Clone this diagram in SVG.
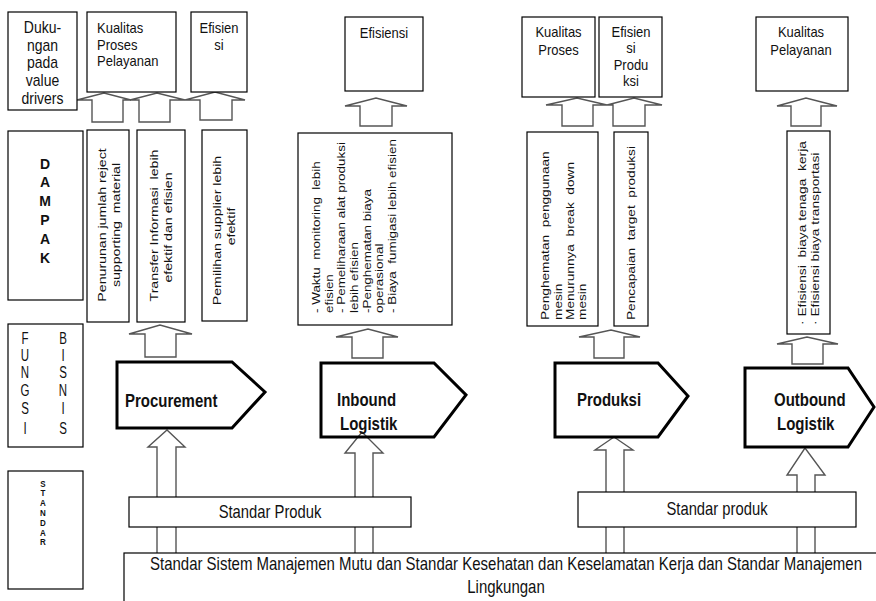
<svg xmlns="http://www.w3.org/2000/svg" width="876" height="601" viewBox="0 0 876 601">
<style>
.box{fill:#fff;stroke:#000;stroke-width:1.2}
.pent{fill:none;stroke:#000;stroke-width:3;stroke-linejoin:miter}
.arr{fill:#fff;stroke:#555;stroke-width:1.4;stroke-linejoin:miter}
text{font-family:"Liberation Sans",Arial,sans-serif;fill:#111;white-space:pre}
.t13{font-size:13px}
.t14{font-size:14px}
.mid{text-anchor:middle}
.fb{font-size:15px;font-weight:bold}
.big{font-size:15px;text-anchor:middle}
.sp{font-size:14.8px;text-anchor:middle}
.dam{font-size:14px;font-weight:bold;text-anchor:middle}
.fun{font-size:11.5px;text-anchor:middle}
.std{font-size:8px;font-weight:bold;text-anchor:middle}
.r1{font-size:11.8px;text-anchor:middle}
.r2{font-size:11.2px}
.r3{font-size:11.4px}
.r4{font-size:11.5px}
</style>
<rect width="876" height="601" fill="#fff"/>
<g id="connectors">
<path class="arr" d="M92,122 V100 H77 L104,93 L131,100 H123 V122 Z"/>
<path class="arr" d="M139,122 V100 H130 L157,93 L185,100 H170 V122 Z"/>
<path class="arr" d="M200,120 V100 H185 L215,92 L245,100 H232 V120 Z"/>
<path class="arr" d="M145,357 V334 H129 L160,325 L192,334 H176 V357 Z"/>
<path class="arr" d="M360,126 V106 H345 L376,98 L407,106 H392 V126 Z"/>
<path class="arr" d="M352,358 V337 H336 L368,329 L398,337 H383 V358 Z"/>
<path class="arr" d="M562,126 V105 H546 L577,98 L607,105 H593 V126 Z"/>
<path class="arr" d="M613,126 V105 H607 L634,98 L662,105 H645 V126 Z"/>
<path class="arr" d="M594,358 V337 H579 L611,330 L640,337 H624 V358 Z"/>
<path class="arr" d="M791,126 V106 H777 L806,98 L837,106 H821 V126 Z"/>
<path class="arr" d="M792,364 V344 H777 L807,337 L838,344 H823 V364 Z"/>
<path class="arr" d="M157,553 V447 H148 L167,430 L185,447 H176 V553"/>
<path class="arr" d="M355,553 V453 H345 L362,432 L383,453 H373 V553"/>
<path class="arr" d="M606,553 V450 H595 L614,437 L633,450 H624 V553"/>
<path class="arr" d="M797,553 V475 H787 L805,448 L825,475 H815 V553"/>
</g>
<g id="node-dukungan">
<rect class="box" x="8" y="12" width="69" height="98"/>
<text class="t14 mid" transform="translate(42.5 33) scale(1 1.15)">Duku-</text>
<text class="t14 mid" transform="translate(42.5 50.5) scale(1 1.15)">ngan</text>
<text class="t14 mid" transform="translate(42.5 68) scale(1 1.15)">pada</text>
<text class="t14 mid" transform="translate(42.5 86) scale(1 1.15)">value</text>
<text class="t14 mid" transform="translate(42.5 103.5) scale(1 1.15)">drivers</text>
</g>
<g id="node-kualitas-proses-pelayanan">
<rect class="box" x="87" y="12" width="89" height="80"/>
<text class="t13" transform="translate(97 33) scale(1 1.15)">Kualitas</text>
<text class="t13" transform="translate(97 50) scale(1 1.15)">Proses</text>
<text class="t13" transform="translate(97 66) scale(1 1.15)">Pelayanan</text>
</g>
<g id="node-efisiensi-1">
<rect class="box" x="191" y="12" width="56" height="80"/>
<text class="t13 mid" transform="translate(219 33) scale(1 1.15)">Efisien</text>
<text class="t13 mid" transform="translate(219 50) scale(1 1.15)">si</text>
</g>
<g id="node-dampak">
<rect class="box" x="8" y="131" width="75" height="169"/>
<text class="dam" transform="translate(45 168.5) scale(1 1.1)">D</text>
<text class="dam" transform="translate(45 187.3) scale(1 1.1)">A</text>
<text class="dam" transform="translate(45 206.1) scale(1 1.1)">M</text>
<text class="dam" transform="translate(45 224.9) scale(1 1.1)">P</text>
<text class="dam" transform="translate(45 243.7) scale(1 1.1)">A</text>
<text class="dam" transform="translate(45 262.5) scale(1 1.1)">K</text>
</g>
<g id="node-dampak-proc-1">
<rect class="box" x="87" y="130" width="42" height="192"/>
<text class="r1" transform="translate(106 225) rotate(-90) scale(1.2 1)">Penurunan jumlah reject</text>
<text class="r1" transform="translate(119.5 225) rotate(-90) scale(1.2 1)">supporting  material</text>
</g>
<g id="node-dampak-proc-2">
<rect class="box" x="137" y="130" width="48" height="192"/>
<text class="r1" transform="translate(158 225.5) rotate(-90) scale(1.2 1)">Transfer Informasi  lebih</text>
<text class="r1" transform="translate(172 227.5) rotate(-90) scale(1.2 1)">efektif dan efisien</text>
</g>
<g id="node-dampak-proc-3">
<rect class="box" x="202" y="130" width="45" height="191"/>
<text class="r1" transform="translate(220.5 230.5) rotate(-90) scale(1.2 1)">Pemilihan supplier lebih</text>
<text class="r1" transform="translate(235 226.5) rotate(-90) scale(1.2 1)">efektif</text>
</g>
<g id="node-fungsi-bisnis">
<rect class="box" x="8" y="324" width="75" height="123"/>
<text class="fun" transform="translate(25 344) scale(1 1.45)">F</text>
<text class="fun" transform="translate(25 361) scale(1 1.45)">U</text>
<text class="fun" transform="translate(25 378) scale(1 1.45)">N</text>
<text class="fun" transform="translate(25 396) scale(1 1.45)">G</text>
<text class="fun" transform="translate(25 414) scale(1 1.45)">S</text>
<text class="fun" transform="translate(25 434) scale(1 1.45)">I</text>
<text class="fun" transform="translate(63 344) scale(1 1.45)">B</text>
<text class="fun" transform="translate(63 361) scale(1 1.45)">I</text>
<text class="fun" transform="translate(63 378) scale(1 1.45)">S</text>
<text class="fun" transform="translate(63 396) scale(1 1.45)">N</text>
<text class="fun" transform="translate(63 414) scale(1 1.45)">I</text>
<text class="fun" transform="translate(63 434) scale(1 1.45)">S</text>
</g>
<g id="node-standar">
<rect class="box" x="8" y="471" width="75" height="118"/>
<text class="std" transform="translate(43 486.5) scale(1 1.2)">S</text>
<text class="std" transform="translate(43 496.3) scale(1 1.2)">T</text>
<text class="std" transform="translate(43 506.1) scale(1 1.2)">A</text>
<text class="std" transform="translate(43 515.9) scale(1 1.2)">N</text>
<text class="std" transform="translate(43 525.7) scale(1 1.2)">D</text>
<text class="std" transform="translate(43 535.5) scale(1 1.2)">A</text>
<text class="std" transform="translate(43 545.3) scale(1 1.2)">R</text>
</g>
<g id="node-procurement">
<polygon class="pent" points="117,362 232,362 265,392 232,428 117,428"/>
<text class="fb" transform="translate(125 407) scale(1 1.2)">Procurement</text>
</g>
<g id="node-efisiensi-2">
<rect class="box" x="345" y="17" width="78" height="74"/>
<text class="t13 mid" transform="translate(384 38) scale(1 1.15)">Efisiensi</text>
</g>
<g id="node-dampak-inbound">
<rect class="box" x="298" y="133" width="154" height="192"/>
<text class="r2" transform="translate(320 313) rotate(-90) scale(1.2 1)">- Waktu  monitoring  lebih</text>
<text class="r2" transform="translate(332.6 313) rotate(-90) scale(1.2 1)">efisien</text>
<text class="r2" transform="translate(345.3 313) rotate(-90) scale(1.2 1)">- Pemeliharaan alat produksi</text>
<text class="r2" transform="translate(357.9 313) rotate(-90) scale(1.2 1)">lebih efisien</text>
<text class="r2" transform="translate(370.6 313) rotate(-90) scale(1.2 1)">-Penghematan biaya</text>
<text class="r2" transform="translate(383.2 313) rotate(-90) scale(1.2 1)">operasional</text>
<text class="r2" transform="translate(395.9 313) rotate(-90) scale(1.2 1)">- Biaya  fumigasi lebih efisien</text>
</g>
<g id="node-inbound">
<polygon class="pent" points="321,363 434,363 466,395 434,437 321,437"/>
<text class="fb" transform="translate(337 406) scale(1 1.2)">Inbound</text>
<text class="fb" transform="translate(340 430) scale(1 1.2)">Logistik</text>
</g>
<g id="node-kualitas-proses">
<rect class="box" x="522" y="17" width="73" height="80"/>
<text class="t13 mid" transform="translate(558.5 37) scale(1 1.15)">Kualitas</text>
<text class="t13 mid" transform="translate(558.5 55) scale(1 1.15)">Proses</text>
</g>
<g id="node-efisiensi-produksi">
<rect class="box" x="599" y="17" width="63" height="80"/>
<text class="t13 mid" transform="translate(631 37) scale(1 1.15)">Efisien</text>
<text class="t13 mid" transform="translate(631 53) scale(1 1.15)">si</text>
<text class="t13 mid" transform="translate(631 70) scale(1 1.15)">Produ</text>
<text class="t13 mid" transform="translate(631 86) scale(1 1.15)">ksi</text>
</g>
<g id="node-dampak-produksi-1">
<rect class="box" x="527" y="132" width="71" height="194"/>
<text class="r3" transform="translate(549 320) rotate(-90) scale(1.2 1)">Penghematan  penggunaan</text>
<text class="r3" transform="translate(562 320) rotate(-90) scale(1.2 1)">mesin</text>
<text class="r3" transform="translate(574 320) rotate(-90) scale(1.2 1)">Menurunnya  break  down</text>
<text class="r3" transform="translate(586 320) rotate(-90) scale(1.2 1)">mesin</text>
</g>
<g id="node-dampak-produksi-2">
<rect class="box" x="614" y="132" width="34" height="194"/>
<text class="r3" transform="translate(635 320) rotate(-90) scale(1.2 1)">Pencapaian  target  produksi</text>
</g>
<g id="node-produksi">
<polygon class="pent" points="555,363 658,363 688,396 658,437 555,437"/>
<text class="fb" transform="translate(577 406) scale(1 1.2)">Produksi</text>
</g>
<g id="node-kualitas-pelayanan">
<rect class="box" x="756" y="17" width="92" height="74"/>
<text class="t13 mid" transform="translate(801 37) scale(1 1.15)">Kualitas</text>
<text class="t13 mid" transform="translate(801 55) scale(1 1.15)">Pelayanan</text>
</g>
<g id="node-dampak-outbound">
<rect class="box" x="787" y="131" width="43" height="203"/>
<text class="r4" transform="translate(806 325) rotate(-90) scale(1.2 1)">· Efisiensi  biaya tenaga  kerja</text>
<text class="r4" transform="translate(819 325) rotate(-90) scale(1.2 1)">· Efisiensi biaya transportasi</text>
</g>
<g id="node-outbound">
<polygon class="pent" points="745,368 848,368 874,407 848,447 745,447"/>
<text class="fb" transform="translate(774 406) scale(1 1.2)">Outbound</text>
<text class="fb" transform="translate(777 430) scale(1 1.2)">Logistik</text>
</g>
<g id="node-standar-produk-1">
<rect class="box" x="129" y="497" width="282" height="30"/>
<text class="sp" transform="translate(270 518) scale(1 1.2)">Standar Produk</text>
</g>
<g id="node-standar-produk-2">
<rect class="box" x="578" y="492" width="278" height="35"/>
<text class="sp" transform="translate(717 515) scale(1 1.2)">Standar produk</text>
</g>
<g id="node-standar-sistem">
<rect class="box" x="124" y="553" width="770" height="60"/>
<text class="big" transform="translate(506 570) scale(1 1.2)">Standar Sistem Manajemen Mutu dan Standar Kesehatan dan Keselamatan Kerja dan Standar Manajemen</text>
<text class="big" transform="translate(506 592.5) scale(1 1.2)">Lingkungan</text>
</g>
</svg>
